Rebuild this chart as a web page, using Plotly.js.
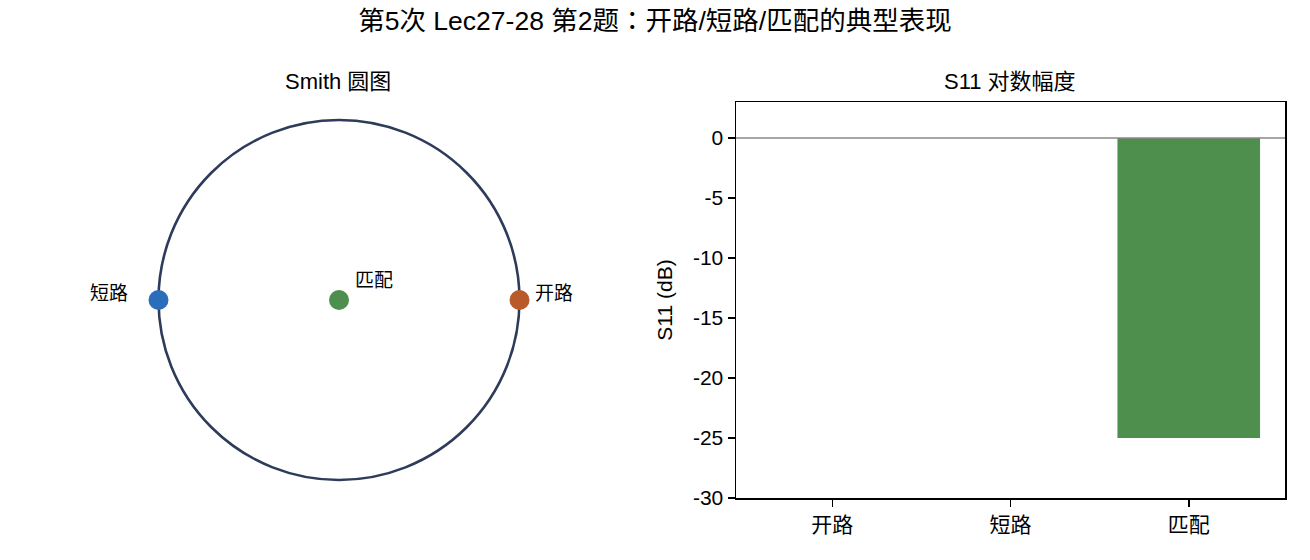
<!DOCTYPE html>
<html>
<head>
<meta charset="utf-8">
<script src="https://cdn.plot.ly/plotly-3.0.1.min.js"></script>
<style>html,body{margin:0;padding:0;background:#fff;}#chart{width:1310px;height:560px;}</style>
</head>
<body>
<div id="chart"></div>
<script>
const FONT = "'Liberation Sans', Arial, 'Noto Sans CJK SC', sans-serif";

// Data
const categories = ['开路', '短路', '匹配'];
const gammaRe = [1, -1, 0];
const gammaIm = [0, 0, 0];
const s11dB = [0, 0, -25];
const pointColors = ['#b85a2a', '#2a6ebb', '#4e8f4e'];
const yTickVals = [0, -5, -10, -15, -20, -25, -30];
const yTickText = ['0', '-5', '-10', '-15', '-20', '-25', '-30'];

const W = 1310, H = 560;
const ydom = [62 / H, 458 / H];

const traces = [
  {
    type: 'scatter', mode: 'markers', x: gammaRe, y: gammaIm,
    xaxis: 'x', yaxis: 'y',
    marker: {size: 20, color: pointColors},
    hoverinfo: 'skip', showlegend: false
  },
  {
    type: 'bar', x: categories, y: s11dB, xaxis: 'x2', yaxis: 'y2',
    marker: {color: pointColors}, width: 0.8, showlegend: false
  }
];

const labelShifts = [[34, 7], [-50, 7], [35, 20]];
const annotations = categories.map((c, i) => ({
  text: c, x: gammaRe[i], y: gammaIm[i], xref: 'x', yref: 'y',
  showarrow: false, xshift: labelShifts[i][0], yshift: labelShifts[i][1],
  font: {size: 19, color: '#000', family: FONT}
}));
annotations.push({
  text: 'Smith 圆图', x: 338 / W, y: (H - 81) / H, xref: 'paper', yref: 'paper',
  showarrow: false, xanchor: 'center', yanchor: 'middle',
  font: {size: 22, color: '#000', family: FONT}
});
annotations.push({
  text: 'S11 对数幅度', x: 1010 / W, y: (H - 81) / H, xref: 'paper', yref: 'paper',
  showarrow: false, xanchor: 'center', yanchor: 'middle',
  font: {size: 22, color: '#000', family: FONT}
});

const titleText = '第5次 Lec27-28 第2题<span style="font-family:\'Noto Sans CJK JP\'">：</span>开路/短路/匹配的典型表现';

const layout = {
  width: W, height: H,
  margin: {l: 0, r: 0, t: 0, b: 0},
  paper_bgcolor: '#fff', plot_bgcolor: '#fff',
  font: {family: FONT, color: '#000'},
  title: {text: titleText, x: 0.5, xanchor: 'center',
          y: (H - 21) / H, yanchor: 'middle', yref: 'container',
          font: {size: 26.5, color: '#000', family: FONT}},
  xaxis: {domain: [140.45 / W, 537.55 / W], range: [-1.1, 1.1], visible: false, fixedrange: true},
  yaxis: {domain: ydom, range: [-1.1, 1.1], visible: false, fixedrange: true},
  xaxis2: {domain: [736 / W, 1285 / W], anchor: 'y2', type: 'category', range: [-0.54, 2.54],
           showline: true, mirror: true, linecolor: '#000', linewidth: 1.5,
           ticks: 'outside', ticklen: 7, tickwidth: 1.5, tickcolor: '#000',
           showgrid: false, zeroline: false, tickfont: {size: 21, family: FONT}},
  yaxis2: {domain: ydom, anchor: 'x2', range: [-30, 3],
           tickvals: yTickVals, ticktext: yTickText,
           showline: true, mirror: true, linecolor: '#000', linewidth: 1.5,
           ticks: 'outside', ticklen: 7, tickwidth: 1.5, tickcolor: '#000',
           showgrid: false, zeroline: false, tickfont: {size: 21, family: FONT},
           title: {text: 'S11 (dB)', standoff: 14, font: {size: 21, family: FONT}}},
  shapes: [
    {type: 'circle', xref: 'x', yref: 'y', x0: -1, x1: 1, y0: -1, y1: 1,
     line: {color: '#2e3b5a', width: 2.6}, layer: 'below'},
    {type: 'line', xref: 'x2 domain', yref: 'y2', x0: 0, x1: 1, y0: 0, y1: 0,
     line: {color: '#888888', width: 1.5}, layer: 'above'}
  ],
  annotations: annotations
};

Plotly.newPlot('chart', traces, layout, {displayModeBar: false, staticPlot: true});
</script>
</body>
</html>
